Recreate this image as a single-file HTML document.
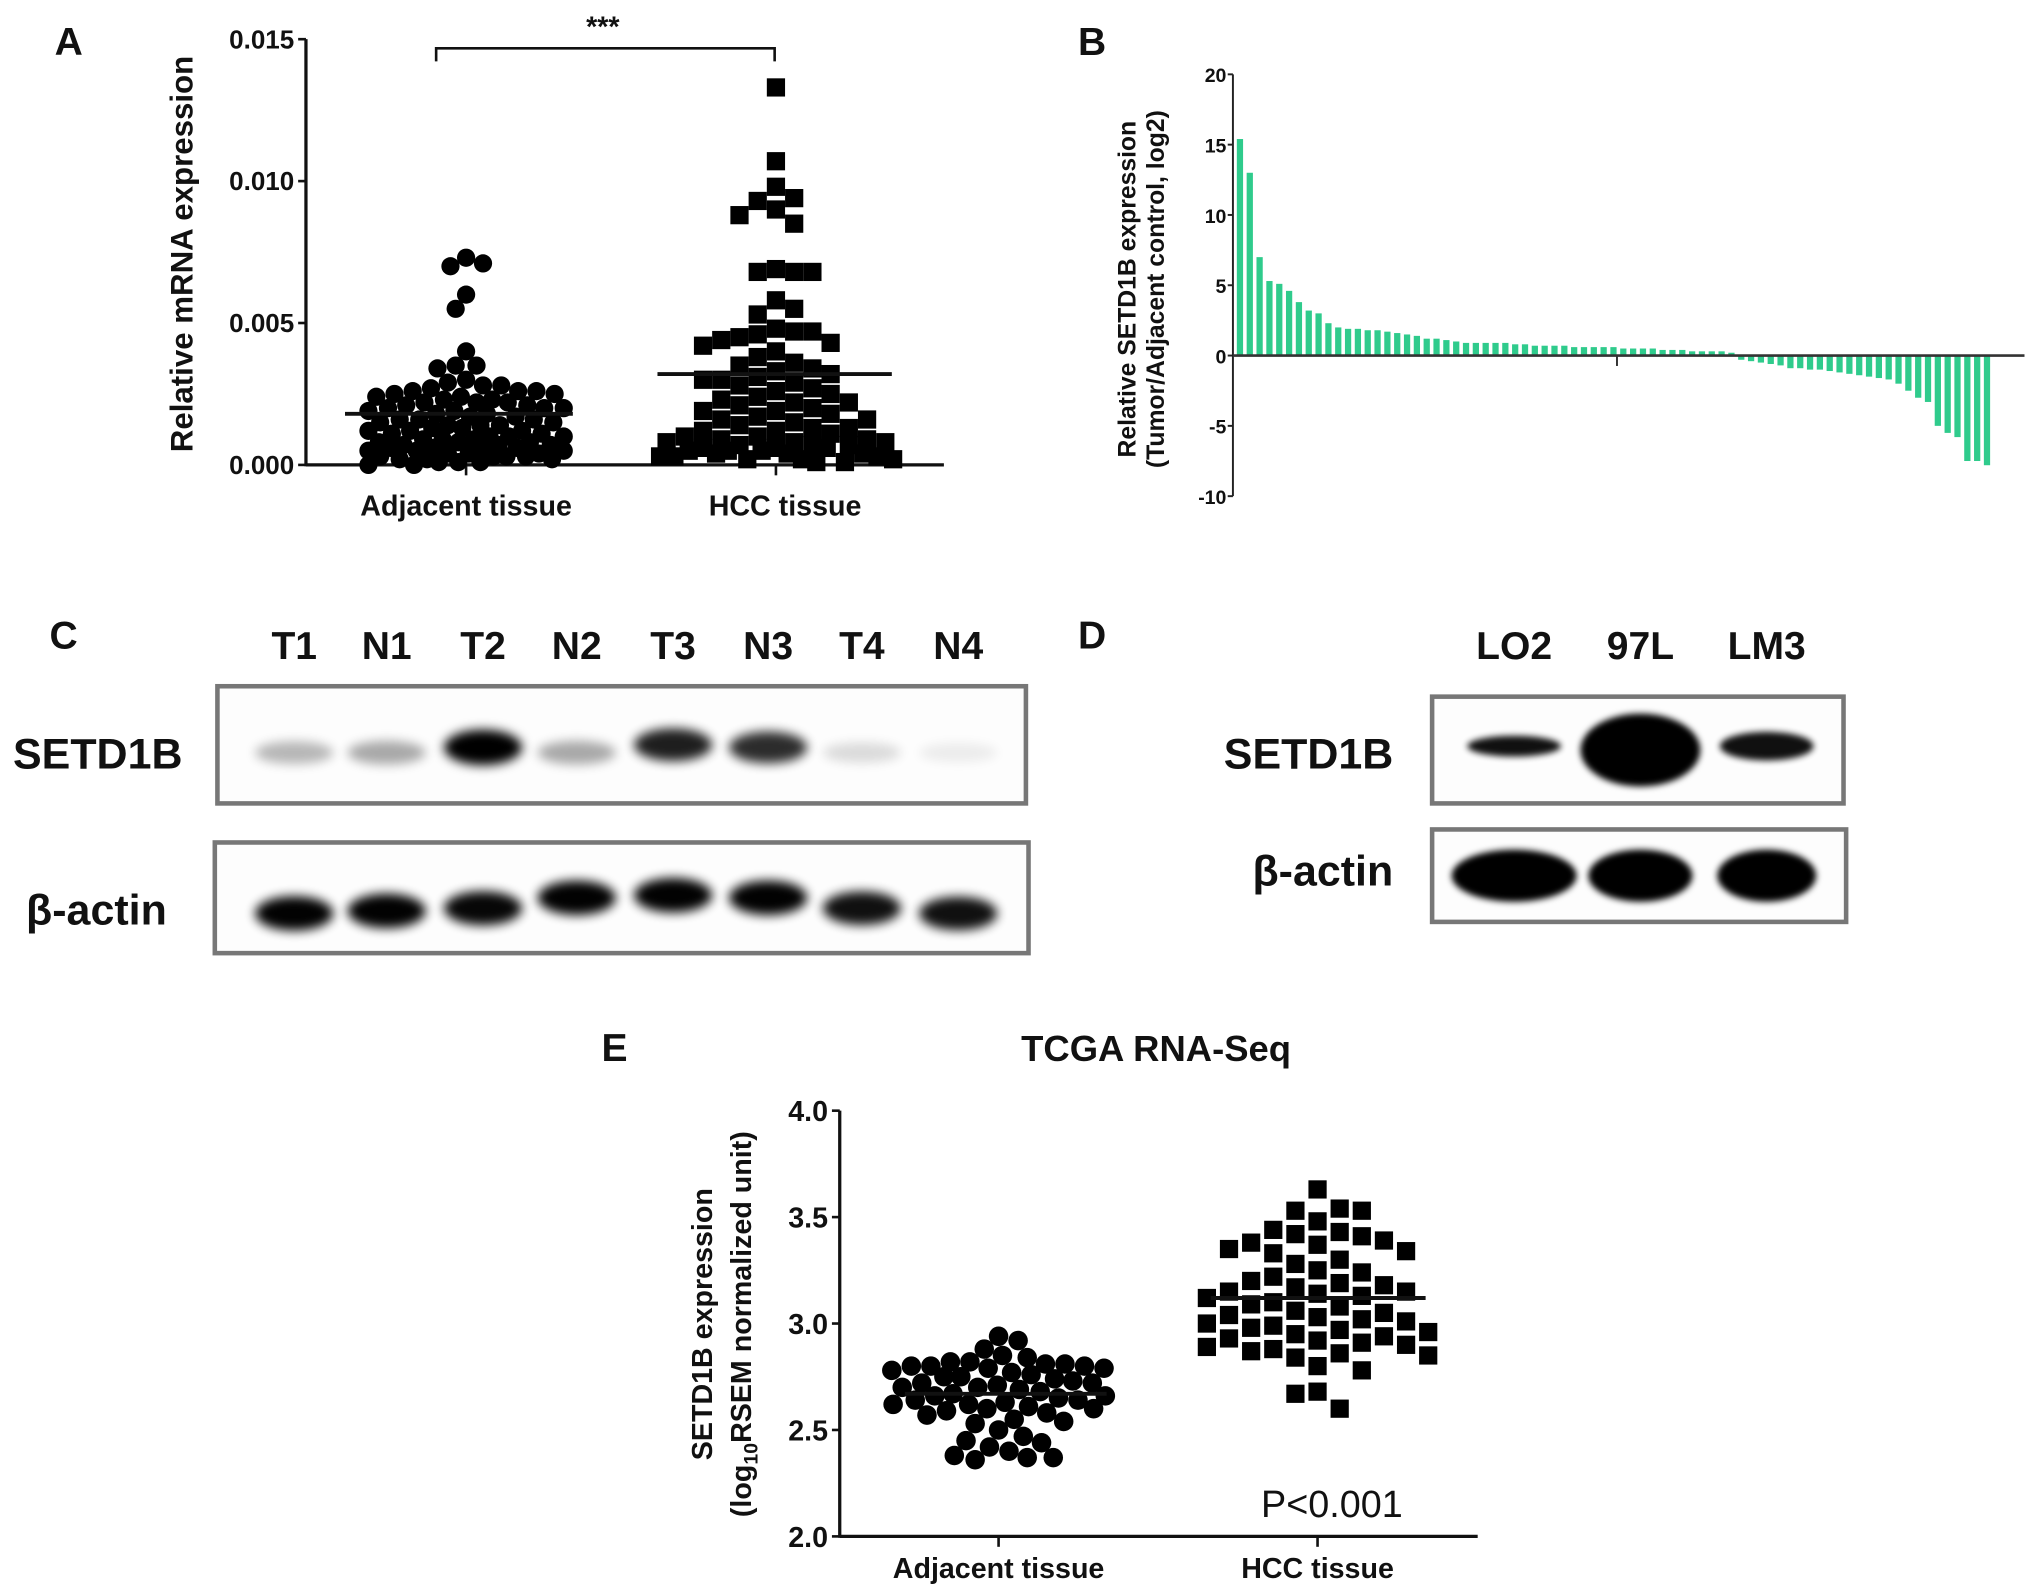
<!DOCTYPE html>
<html><head><meta charset="utf-8"><style>
html,body{margin:0;padding:0;background:#fff}
svg{display:block}
text{font-family:"Liberation Sans",sans-serif;font-weight:bold;fill:#111}
</style></head><body>
<svg id="fig" xmlns="http://www.w3.org/2000/svg" width="2031" height="1586" viewBox="0 0 1560 1218">
<defs>
<filter id="bl" x="-50%" y="-50%" width="200%" height="200%"><feGaussianBlur stdDeviation="4"/></filter>
<filter id="bl2" x="-50%" y="-50%" width="200%" height="200%"><feGaussianBlur stdDeviation="2.5"/></filter>
</defs>
<g id="pa"></g>
<g id="pb"></g>
<g id="pc"></g>
<g id="pd"></g>
<g id="pe"></g>
</svg>
<script>
// ---- Panel A data ----
const aTicks = ["0.000","0.005","0.010","0.015"];
const aTickVals = [0,0.005,0.010,0.015];
const aAdj = [0.0073,0.0071,0.0070,0.0060,0.0055,0.0040,0.0035,0.0035,0.0034,0.0030,0.0029,0.0028,0.0028,0.0027,0.0026,0.0026,0.0026,0.0025,0.0025,0.0024,0.0024,0.0023,0.0023,0.0022,0.0022,0.0022,0.0021,0.0021,0.0020,0.0020,0.0020,0.0019,0.0019,0.0018,0.0018,0.0017,0.0017,0.0016,0.0016,0.0016,0.0015,0.0015,0.0014,0.0014,0.0014,0.0013,0.0013,0.0012,0.0012,0.0012,0.0011,0.0011,0.0010,0.0010,0.0010,0.0009,0.0009,0.0009,0.0008,0.0008,0.0008,0.0007,0.0007,0.0007,0.0006,0.0006,0.0006,0.0006,0.0005,0.0005,0.0005,0.0004,0.0004,0.0004,0.0003,0.0003,0.0003,0.0003,0.0002,0.0002,0.0002,0.0001,0.0001,0.0001,0.0000,0.0000];
const aHcc = [0.0133,0.0107,0.0098,0.0094,0.0093,0.0090,0.0088,0.0085,0.0069,0.0068,0.0068,0.0068,0.0058,0.0055,0.0053,0.0048,0.0047,0.0047,0.0046,0.0045,0.0044,0.0043,0.0042,0.0040,0.0038,0.0036,0.0035,0.0034,0.0033,0.0032,0.0031,0.0030,0.0030,0.0029,0.0028,0.0027,0.0026,0.0025,0.0024,0.0023,0.0022,0.0022,0.0021,0.0020,0.0019,0.0019,0.0018,0.0017,0.0016,0.0016,0.0015,0.0014,0.0013,0.0013,0.0012,0.0012,0.0011,0.0010,0.0010,0.0009,0.0009,0.0008,0.0008,0.0008,0.0007,0.0007,0.0007,0.0006,0.0006,0.0006,0.0005,0.0005,0.0005,0.0004,0.0004,0.0004,0.0003,0.0003,0.0003,0.0002,0.0002,0.0002,0.0001,0.0001];
const aMeans = [0.0018,0.0032];
// ---- Panel B data ----
const bTicks = ["-10","-5","0","5","10","15","20"];
const bTickVals = [-10,-5,0,5,10,15,20];
const bVals = [15.4,13,7,5.3,5.1,4.6,3.8,3.2,3.0,2.3,2.0,1.9,1.9,1.8,1.8,1.7,1.6,1.5,1.4,1.2,1.2,1.1,1.0,0.9,0.9,0.9,0.9,0.9,0.8,0.8,0.7,0.7,0.7,0.7,0.6,0.6,0.6,0.6,0.6,0.5,0.5,0.5,0.5,0.4,0.4,0.4,0.3,0.3,0.3,0.3,0.2,-0.3,-0.4,-0.5,-0.6,-0.7,-0.9,-0.9,-1.0,-1.0,-1.1,-1.2,-1.3,-1.4,-1.5,-1.6,-1.7,-2.0,-2.5,-3.0,-3.3,-5.0,-5.5,-5.8,-7.5,-7.5,-7.8];
// ---- Panel E data ----
const eTicks = ["2.0","2.5","3.0","3.5","4.0"];
const eTickVals = [2.0,2.5,3.0,3.5,4.0];
const eAdj = [2.94,2.92,2.88,2.85,2.84,2.82,2.82,2.81,2.81,2.80,2.80,2.80,2.79,2.79,2.78,2.77,2.76,2.75,2.75,2.74,2.73,2.72,2.72,2.71,2.70,2.70,2.69,2.68,2.67,2.66,2.66,2.65,2.64,2.64,2.63,2.62,2.62,2.61,2.60,2.60,2.59,2.58,2.57,2.55,2.54,2.53,2.50,2.47,2.45,2.44,2.42,2.40,2.38,2.37,2.37,2.36];
const eHcc = [3.63,3.54,3.53,3.53,3.48,3.44,3.43,3.42,3.41,3.39,3.38,3.37,3.35,3.34,3.33,3.30,3.28,3.25,3.24,3.22,3.20,3.19,3.18,3.17,3.15,3.15,3.14,3.13,3.12,3.10,3.09,3.08,3.06,3.05,3.04,3.03,3.02,3.01,3.00,2.99,2.98,2.97,2.96,2.95,2.94,2.93,2.92,2.91,2.90,2.89,2.88,2.87,2.86,2.85,2.84,2.80,2.78,2.68,2.67,2.60];
const eMeans = [2.67,3.12];
const cLanes = ["T1","N1","T2","N2","T3","N3","T4","N4"];
const cSetd = [0.25,0.3,0.95,0.3,0.8,0.75,0.12,0.06];
const cActin = [0.9,0.9,0.88,0.9,0.9,0.9,0.85,0.85];
const dLanes = ["LO2","97L","LM3"];
const dSetd = [0.85,1,0.85];
const dActin = [1,0.95,0.95];

const NS="http://www.w3.org/2000/svg";
function mk(tag,attrs,parent){const e=document.createElementNS(NS,tag);for(const k in attrs)e.setAttribute(k,attrs[k]);parent.appendChild(e);return e;}
function txt(s,attrs,parent){const e=mk('text',attrs,parent);e.textContent=s;return e;}
function lin(v,d0,d1,r0,r1){return r0+(v-d0)/(d1-d0)*(r1-r0);}

// beeswarm with clamped half-width W; overlapping allowed when no room
function swarm(vals,yf,cx,d,W,square){
  const placed=[];
  const dist=(a,b)=>square?Math.max(Math.abs(a.x-b.x),Math.abs(a.y-b.y)):Math.hypot(a.x-b.x,a.y-b.y);
  vals.forEach((v,i)=>{
    const y=yf(v);let best=null,bestScore=-1;
    const near=placed.filter(p=>Math.abs(p.y-y)<d);
    for(let k=0;k<=W;k+=1){
      const opts=((i%2)?[k,-k]:[-k,k]);
      for(const o of opts){
        const c={x:cx+o,y};let m=Infinity;
        near.forEach(p=>{m=Math.min(m,dist(c,p));});
        if(m>=d){best=c;bestScore=Infinity;break;}
        if(m>bestScore){bestScore=m;best=c;}
      }
      if(bestScore===Infinity)break;
    }
    placed.push(best);
  });
  return placed;
}

// ---------- Panel A ----------
(function(){
  const g=document.getElementById('pa');
  const x0=235,x1=725,yTop=30,yBot=357;
  const y=v=>lin(v,0,0.015,yBot,yTop);
  txt('A',{x:42,y:42,'font-size':30,},g);
  mk('line',{x1:x0,y1:yTop,x2:x0,y2:yBot+1,stroke:'#111','stroke-width':2.5,},g);
  mk('line',{x1:x0,y1:yBot,x2:x1,y2:yBot,stroke:'#111','stroke-width':2.5,},g);
  aTickVals.forEach((v,i)=>{
    const t=mk('line',{x1:x0-6,y1:y(v),x2:x0,y2:y(v),stroke:'#111','stroke-width':2},g);
    
    const l=txt(aTicks[i],{x:x0-9,y:y(v)+7,'font-size':20,'text-anchor':'end'},g);
    
  });
  const cats=[358,596];
  cats.forEach(cx=>{mk('line',{x1:cx,y1:yBot,x2:cx,y2:yBot+8,stroke:'#111','stroke-width':2,},g);});
  txt('Adjacent tissue',{x:358,y:396,'font-size':22,'text-anchor':'middle',},g);
  txt('HCC tissue',{x:603,y:396,'font-size':22,'text-anchor':'middle',},g);
  txt('Relative  mRNA expression',{x:0,y:0,'font-size':24,'text-anchor':'middle',transform:'translate(148,195) rotate(-90)',},g);
  mk('path',{d:'M335,47 V37 H595 V47',fill:'none',stroke:'#111','stroke-width':2,},g);
  txt('***',{x:463,y:28,'font-size':22,'text-anchor':'middle',},g);
  swarm(aAdj,y,358,13.5,75,false).forEach(p=>{const c=mk('circle',{cx:p.x,cy:p.y,r:7,fill:'#000'},g);
    });
  swarm(aHcc,y,596,14,90,true).forEach(p=>{const c=mk('rect',{x:p.x-7,y:p.y-7,width:14,height:14,fill:'#000'},g);
    });
  const m1=mk('line',{x1:265,x2:440,y1:y(aMeans[0]),y2:y(aMeans[0]),stroke:'#111','stroke-width':3},g);
  
  const m2=mk('line',{x1:505,x2:685,y1:y(aMeans[1]),y2:y(aMeans[1]),stroke:'#111','stroke-width':3},g);
  
})();

// ---------- Panel B ----------
(function(){
  const g=document.getElementById('pb');
  const x0=947,x1=1555;
  const y=v=>lin(v,0,20,273,57);
  txt('B',{x:828,y:42,'font-size':30,},g);
  bVals.forEach((v,i)=>{
    const bx=950+i*7.55;
    const r=mk('rect',{x:bx,y:Math.min(y(v),y(0)),width:4.8,height:Math.abs(y(v)-y(0)),fill:'#2fcb8c'},g);
    
  });
  mk('line',{x1:x0,y1:y(20),x2:x0,y2:y(-10),stroke:'#222','stroke-width':1.5,},g);
  mk('line',{x1:x0,y1:y(0),x2:x1,y2:y(0),stroke:'#333','stroke-width':2,},g);
  mk('line',{x1:1242,y1:y(0),x2:1242,y2:y(0)+8,stroke:'#333','stroke-width':1.5,},g);
  bTickVals.forEach((v,i)=>{
    const t=mk('line',{x1:x0-4,y1:y(v),x2:x0,y2:y(v),stroke:'#222','stroke-width':1.5},g);
    
    const l=txt(bTicks[i],{x:x0-5,y:y(v)+6,'font-size':15,'text-anchor':'end'},g);
    
  });
  txt('Relative SETD1B expression',{x:0,y:0,'font-size':19,'text-anchor':'middle',transform:'translate(872,222) rotate(-90)',},g);
  txt('(Tumor/Adjacent control, log2)',{x:0,y:0,'font-size':19,'text-anchor':'middle',transform:'translate(894,222) rotate(-90)',},g);
})();

// ---------- Blots ----------
function blot(g,name,bx,by,bw,bh,centers,vals,thick,dy){
  const b=mk('g',{},g);
  mk('rect',{x:bx,y:by,width:bw,height:bh,fill:'#fdfdfd',stroke:'#777','stroke-width':3.5},b);
  centers.forEach((cx,i)=>{
    const v=vals[i];
    const e=mk('ellipse',{cx:cx,cy:by+bh/2+(dy?dy[i]:0),rx:30,ry:thick*(0.5+0.5*v),fill:'#000',opacity:Math.min(1,v*1.1),filter:'url(#bl)'},b);
    
  });
}
(function(){
  const g=document.getElementById('pc');
  txt('C',{x:38,y:498,'font-size':30,},g);
  const cx=[226,297,371,443,517,590,662,736];
  cLanes.forEach((s,i)=>{const t=txt(s,{x:cx[i],y:506,'font-size':30,'text-anchor':'middle'},g);
    });
  txt('SETD1B',{x:10,y:590,'font-size':33,},g);
  txt('β-actin',{x:20,y:710,'font-size':33,},g);
  blot(g,'setd1b-blot',167,527,621,90,cx,cSetd,14,[6,6,2,6,0,2,6,6]);
  blot(g,'actin-blot',165,647,625,85,cx,cActin,14,[12,10,8,0,-2,0,8,12]);
})();
(function(){
  const g=document.getElementById('pd');
  txt('D',{x:828,y:498,'font-size':30,},g);
  const cx=[1163,1260,1357];
  dLanes.forEach((s,i)=>{const t=txt(s,{x:cx[i],y:506,'font-size':30,'text-anchor':'middle'},g);
    });
  txt('SETD1B',{x:940,y:590,'font-size':33,},g);
  txt('β-actin',{x:962,y:680,'font-size':33,},g);
  blot(g,'setd1b-blot',1100,535,316,82,cx,dSetd,[0],[ -3,0,-3]);
  const bs=g.lastChild.querySelectorAll('ellipse');
  const ry=[8,28,11],rx=[36,46,36];
  bs.forEach((e,i)=>{e.setAttribute('ry',ry[i]);e.setAttribute('rx',rx[i]);e.setAttribute('filter','url(#bl2)');});
  blot(g,'actin-blot',1100,637,318,71,cx,dActin,[0],[0,0,0]);
  const ba=g.lastChild.querySelectorAll('ellipse');
  ba.forEach((e,i)=>{e.setAttribute('ry',20);e.setAttribute('rx',[48,40,38][i]);e.setAttribute('filter','url(#bl2)');e.setAttribute('opacity',1);});
})();

// ---------- Panel E ----------
(function(){
  const g=document.getElementById('pe');
  const x0=645,x1=1135,yTop=853,yBot=1180;
  const y=v=>lin(v,2,4,yBot,yTop);
  txt('E',{x:462,y:815,'font-size':30,},g);
  txt('TCGA RNA-Seq',{x:888,y:815,'font-size':28,'text-anchor':'middle',},g);
  mk('line',{x1:x0,y1:yTop,x2:x0,y2:yBot+1,stroke:'#111','stroke-width':2.5,},g);
  mk('line',{x1:x0,y1:yBot,x2:x1,y2:yBot,stroke:'#111','stroke-width':2.5,},g);
  eTickVals.forEach((v,i)=>{
    const t=mk('line',{x1:x0-6,y1:y(v),x2:x0,y2:y(v),stroke:'#111','stroke-width':2},g);
    
    const l=txt(eTicks[i],{x:x0-9,y:y(v)+8,'font-size':22,'text-anchor':'end'},g);
    
  });
  [767,1012].forEach(cx=>{mk('line',{x1:cx,y1:yBot,x2:cx,y2:yBot+8,stroke:'#111','stroke-width':2,},g);});
  txt('Adjacent tissue',{x:767,y:1212,'font-size':22,'text-anchor':'middle',},g);
  txt('HCC tissue',{x:1012,y:1212,'font-size':22,'text-anchor':'middle',},g);
  txt('SETD1B expression',{x:0,y:0,'font-size':22,'text-anchor':'middle',transform:'translate(547,1017) rotate(-90)',},g);
  const t2=mk('text',{x:0,y:0,'font-size':22,'text-anchor':'middle',transform:'translate(577,1017) rotate(-90)',},g);
  t2.innerHTML='(log<tspan font-size="15" dy="5">10</tspan><tspan dy="-5">RSEM normalized unit)</tspan>';
  swarm(eAdj,y,767,14.5,82,false).forEach(p=>{const c=mk('circle',{cx:p.x,cy:p.y,r:7.5,fill:'#000'},g);
    });
  swarm(eHcc,y,1012,16.5,85,true).forEach(p=>{const c=mk('rect',{x:p.x-7,y:p.y-7,width:14,height:14,fill:'#000'},g);
    });
  const m1=mk('line',{x1:695,x2:850,y1:y(eMeans[0]),y2:y(eMeans[0]),stroke:'#111','stroke-width':3},g);
  
  const m2=mk('line',{x1:930,x2:1095,y1:y(eMeans[1]),y2:y(eMeans[1]),stroke:'#111','stroke-width':3},g);
  
  const p=txt('P<0.001',{x:1023,y:1165,'font-size':29,'text-anchor':'middle',},g);
  p.style.fontWeight='normal';
})();
</script>
</body></html>
